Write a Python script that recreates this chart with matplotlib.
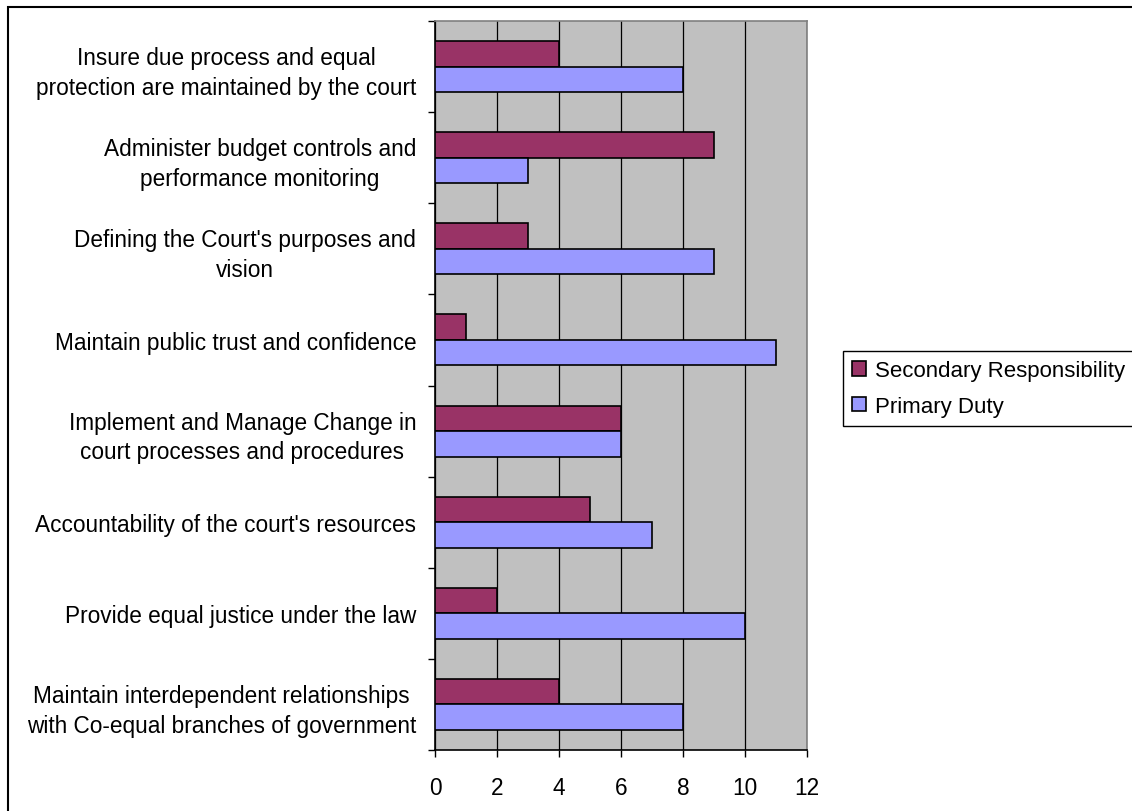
import numpy as np
import matplotlib
matplotlib.use("Agg")
import matplotlib.pyplot as plt
from matplotlib.patches import Rectangle
from matplotlib.ticker import FixedLocator

plt.rcParams['font.family'] = ['Liberation Sans', 'DejaVu Sans']

# Court responsibilities, listed top to bottom as they appear on the chart
tasks = [
    "Insure due process and equal\nprotection are maintained by the court",
    "Administer budget controls and\nperformance monitoring",
    "Defining the Court's purposes and\nvision",
    "Maintain public trust and confidence",
    "Implement and Manage Change in\ncourt processes and procedures",
    "Accountability of the court's resources",
    "Provide equal justice under the law",
    "Maintain interdependent relationships\nwith Co-equal branches of government",
]
secondary = [4, 9, 3, 1, 6, 5, 2, 4]
primary = [8, 3, 9, 11, 6, 7, 10, 8]
x_ticks = [0, 2, 4, 6, 8, 10, 12]

W, H = 1132, 812
FS = 16.3
fig = plt.figure(figsize=(W / 100, H / 100), dpi=100)
ax = fig.add_axes([435 / W, 1 - 751 / H, (807 - 435) / W, (751 - 22) / H])

n = len(tasks)
pos = np.arange(n)[::-1]  # first task at the top
bh = 0.28

ax.barh(pos + bh / 2, secondary, height=bh, color='#993366', edgecolor='black',
        linewidth=1.2, label='Secondary Responsibility', zorder=3)
ax.barh(pos - bh / 2, primary, height=bh, color='#9999FF', edgecolor='black',
        linewidth=1.2, label='Primary Duty', zorder=3)

ax.set_facecolor('#C0C0C0')
ax.set_xlim(0, 12)
ax.set_ylim(-0.5, n - 0.5)
ax.set_xticks(x_ticks)
ax.set_xticklabels([str(t) for t in x_ticks], fontsize=FS)
ax.set_yticks(pos)
ax.set_yticklabels(tasks, fontsize=FS, multialignment='center', linespacing=1.38)
ax.yaxis.set_minor_locator(FixedLocator(np.arange(-0.5, n, 1.0)))

ax.tick_params(axis='y', which='major', length=0, pad=13.5)
ax.tick_params(axis='y', which='minor', length=5, width=1, direction='out', color='black')
ax.tick_params(axis='x', which='major', length=5, width=1, direction='out', pad=14)

ax.grid(axis='x', color='black', linewidth=0.9, zorder=1)
ax.set_axisbelow(True)

ax.spines['left'].set_color('black')
ax.spines['bottom'].set_color('black')
ax.spines['top'].set_color('#808080')
ax.spines['right'].set_color('#808080')
for s in ax.spines.values():
    s.set_linewidth(1.2)

handles, labels = ax.get_legend_handles_labels()
leg = fig.legend(handles, labels, loc='upper left',
                 bbox_to_anchor=(843 / W, 1 - 352 / H), borderaxespad=0,
                 fontsize=16, frameon=True, fancybox=False, shadow=False,
                 handlelength=0.6, handleheight=0.6, handletextpad=0.4,
                 borderpad=0.42, labelspacing=0.66)
leg.get_frame().set_edgecolor('black')
leg.get_frame().set_linewidth(1.0)
leg.get_frame().set_alpha(1)

# outer chart border
fig.add_artist(Rectangle((8 / W, -0.1), 1.2, 1.1 - 8 / H, transform=fig.transFigure,
                         fill=False, edgecolor='black', linewidth=1.5))

fig.savefig('out.png', dpi=100)
